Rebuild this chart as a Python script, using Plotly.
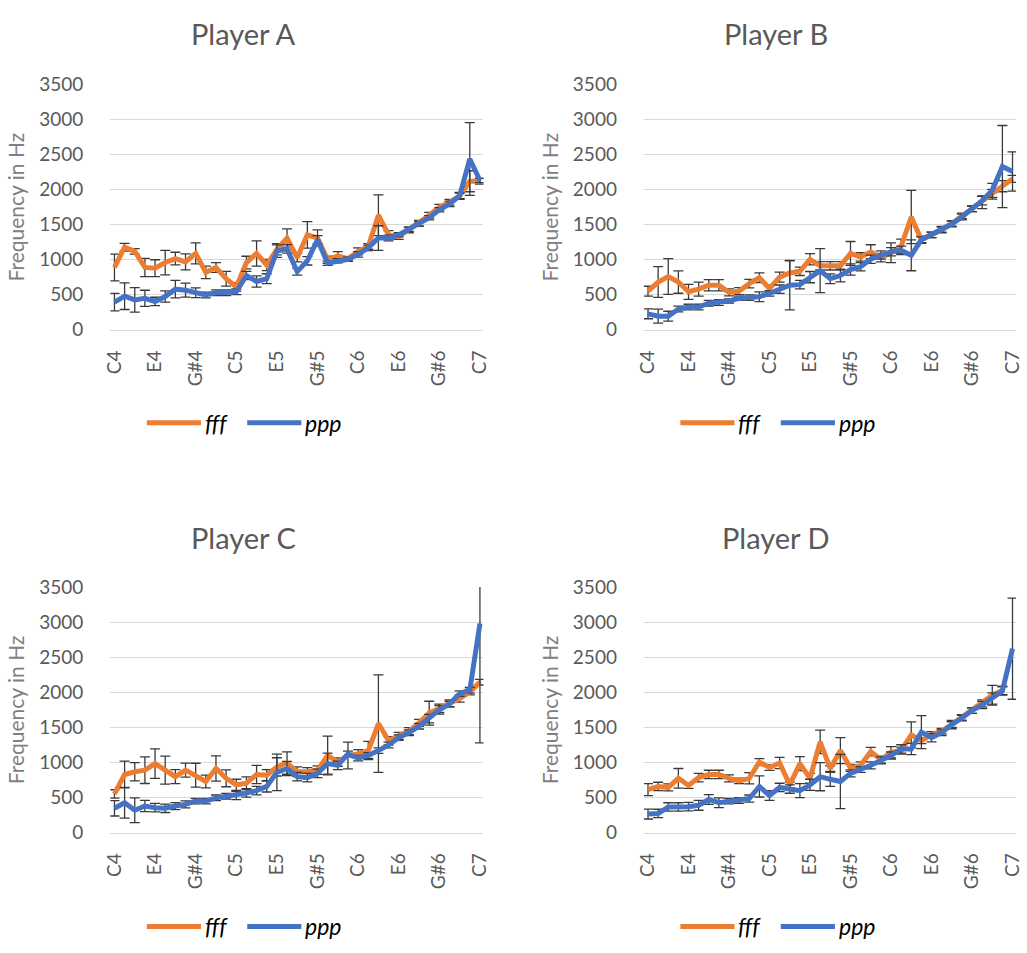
import plotly.graph_objects as go

# 37 semitones from C4 to C7
notes = ["C4", "C#4", "D4", "D#4", "E4", "F4", "F#4", "G4", "G#4", "A4", "A#4", "B4",
         "C5", "C#5", "D5", "D#5", "E5", "F5", "F#5", "G5", "G#5", "A5", "A#5", "B5",
         "C6", "C#6", "D6", "D#6", "E6", "F6", "F#6", "G6", "G#6", "A6", "A#6", "B6",
         "C7"]
tick_notes = notes[::4]

players = ["Player A", "Player B", "Player C", "Player D"]
dynamics = ["fff", "ppp"]

# mean frequency (Hz) and standard deviation per note, fff and ppp dynamics
fff_a = [890, 1180, 1120, 890, 880, 960, 1017, 970, 1090, 820, 890, 730, 612, 960, 1090, 925,
         1150, 1310, 1030, 1355, 1310, 1000, 1055, 1015, 1120, 1190, 1635, 1355, 1330, 1425,
         1520, 1635, 1750, 1820, 1910, 2120, 2120]
fff_a_err = [190, 55, 40, 130, 120, 175, 90, 115, 150, 90, 70, 105, 60, 90, 180, 80,
             80, 130, 60, 190, 115, 50, 60, 30, 50, 40, 290, 60, 40, 40,
             40, 40, 40, 40, 50, 150, 40]
ppp_a = [395, 480, 427, 450, 405, 475, 580, 566, 530, 497, 530, 530, 543, 775, 690, 730,
         1123, 1155, 830, 985, 1285, 950, 985, 1007, 1077, 1170, 1310, 1310, 1355, 1435,
         1510, 1600, 1713, 1797, 1912, 2437, 2130]
ppp_a_err = [125, 190, 175, 115, 60, 80, 125, 100, 70, 40, 40, 40, 40, 60, 80, 70,
             90, 60, 50, 60, 60, 30, 30, 30, 40, 40, 175, 40, 30, 30,
             30, 30, 30, 40, 40, 520, 30]

fff_b = [552, 682, 761, 682, 543, 580, 636, 636, 534, 552, 659, 743, 590, 752, 812, 835,
         1007, 914, 914, 914, 1090, 1040, 1114, 1030, 1100, 1193, 1610, 1285, 1355, 1425,
         1518, 1625, 1727, 1820, 1935, 2050, 2155]
fff_b_err = [70, 220, 255, 160, 107, 100, 80, 80, 50, 50, 60, 70, 50, 70, 180, 60,
             80, 60, 60, 60, 170, 60, 100, 60, 140, 100, 380, 50, 40, 40,
             40, 40, 40, 90, 70, 80, 50]
ppp_b = [228, 195, 195, 297, 325, 325, 380, 390, 413, 450, 460, 473, 520, 580, 636, 645,
         752, 845, 729, 775, 860, 900, 1007, 1068, 1114, 1133, 1063, 1285, 1355, 1435,
         1510, 1610, 1727, 1843, 1990, 2330, 2260]
ppp_b_err = [70, 100, 70, 40, 40, 40, 40, 40, 30, 30, 40, 70, 40, 60, 350, 60,
             80, 315, 70, 90, 80, 60, 60, 60, 60, 60, 220, 40, 40, 40,
             40, 40, 40, 60, 100, 585, 280]

fff_c = [552, 830, 868, 891, 985, 891, 798, 891, 820, 730, 915, 775, 682, 705, 830, 820,
         938, 993, 868, 868, 891, 1100, 1007, 1100, 1123, 1170, 1555, 1310, 1380, 1448,
         1565, 1703, 1773, 1843, 1912, 2005, 2145]
fff_c_err = [60, 190, 130, 190, 210, 200, 100, 100, 170, 90, 180, 120, 80, 90, 130, 80,
             130, 160, 70, 60, 60, 275, 60, 190, 60, 130, 695, 60, 50, 50,
             50, 170, 60, 50, 50, 40, 40]
ppp_c = [348, 427, 320, 380, 357, 348, 380, 404, 450, 450, 497, 520, 530, 566, 600, 660,
         860, 915, 798, 785, 845, 985, 960, 1123, 1063, 1100, 1170, 1250, 1355, 1425,
         1518, 1625, 1750, 1833, 1982, 2030, 2980]
ppp_c_err = [110, 220, 175, 80, 60, 60, 50, 50, 40, 40, 40, 40, 60, 60, 60, 80,
             260, 100, 60, 60, 60, 150, 60, 40, 40, 40, 40, 40, 40, 40,
             40, 60, 60, 40, 40, 40, 1700]

fff_d = [613, 659, 645, 775, 673, 785, 830, 830, 775, 738, 775, 1007, 928, 993, 682, 985,
         775, 1295, 914, 1170, 924, 960, 1155, 1040, 1147, 1170, 1393, 1310, 1400, 1448,
         1541, 1643, 1740, 1843, 1959, 2028, None]
fff_d_err = [85, 60, 50, 140, 40, 60, 60, 60, 50, 40, 80, 50, 40, 80, 40, 100,
             70, 167, 40, 185, 50, 50, 60, 50, 80, 50, 185, 40, 40, 40,
             60, 40, 40, 50, 140, 60, None]
ppp_d = [265, 274, 367, 367, 371, 390, 473, 427, 450, 460, 487, 659, 530, 645, 622, 600,
         682, 798, 761, 729, 845, 900, 960, 1030, 1100, 1193, 1193, 1434, 1355, 1425,
         1541, 1634, 1740, 1820, 1912, 2020, 2622]
ppp_d_err = [70, 60, 60, 60, 60, 70, 70, 70, 40, 40, 50, 150, 70, 60, 60, 100,
             80, 200, 100, 386, 50, 40, 50, 50, 50, 60, 80, 235, 60, 40,
             40, 40, 40, 50, 80, 60, 720]

fff_series = [(fff_a, fff_a_err), (fff_b, fff_b_err), (fff_c, fff_c_err), (fff_d, fff_d_err)]
ppp_series = [(ppp_a, ppp_a_err), (ppp_b, ppp_b_err), (ppp_c, ppp_c_err), (ppp_d, ppp_d_err)]

ORANGE = "#ED7D31"
BLUE = "#4472C4"
ERR = "#3A3A3A"
GRID = "#D9D9D9"
TXT = "#595959"
FONT = "Lato"

W, H = 1027, 953

# plot areas in pixels: (left, right, top, bottom)
areas = [(103, 482, 74.3, 325.7), (645, 1023, 74.3, 325.7),
         (103, 482, 589.3, 841), (645, 1023, 589.3, 841)]
title_pos = [(238, 22), (779, 22), (238, 538), (779, 538)]
# legend row: left edge of the first key and its vertical centre
legend_pos = [(140, 421), (682, 421), (140, 937), (682, 937)]
KEY_LEN, KEY_GAP, ITEM_STEP = 55, 2, 102


def px_x(v):
    return v / W


def px_y(v):
    return 1 - v / H


fig = go.Figure()
layout = {}
shapes = []
annotations = []
for k in range(4):
    sfx = "" if k == 0 else str(k + 1)
    xa, ya = "x" + sfx, "y" + sfx
    for name, (vals, err), col in (("fff", fff_series[k], ORANGE), ("ppp", ppp_series[k], BLUE)):
        fig.add_trace(go.Scatter(
            x=notes, y=vals, name=name, mode="lines",
            line=dict(color=col, width=5),
            error_y=dict(type="data", array=err, visible=True, color=ERR, thickness=1.3, width=5),
            xaxis=xa, yaxis=ya, showlegend=False, connectgaps=False,
        ))
    l, r, t, b = areas[k]
    layout["xaxis" + sfx] = dict(
        domain=[px_x(l), px_x(r)], anchor=ya, type="category", categoryorder="array",
        categoryarray=notes, range=[-0.4, 36.35], tickvals=tick_notes, tickangle=-90,
        tickfont=dict(family=FONT, size=19, color=TXT), showgrid=False, zeroline=False,
        showline=True, linecolor=GRID, linewidth=1, ticks="", ticklabelstandoff=12,
    )
    layout["yaxis" + sfx] = dict(
        domain=[px_y(b), px_y(t)], anchor=xa, range=[0, 3500], dtick=500,
        tickfont=dict(family=FONT, size=19, color=TXT), showgrid=True, gridcolor=GRID,
        gridwidth=1, zeroline=False, showline=False, ticks="", ticklabelstandoff=26,
        title=dict(text="Frequency in Hz", font=dict(family=FONT, size=21, color="#808080"),
                   standoff=8),
    )

    # series key below each panel
    lx, ly = legend_pos[k]
    for j, (name, col) in enumerate(zip(dynamics, (ORANGE, BLUE))):
        x0 = lx + j * ITEM_STEP
        shapes.append(dict(
            type="line", xref="paper", yref="paper",
            x0=px_x(x0), x1=px_x(x0 + KEY_LEN), y0=px_y(ly), y1=px_y(ly),
            line=dict(color=col, width=5),
        ))
        annotations.append(dict(
            text=name, x=px_x(x0 + KEY_LEN + KEY_GAP), y=px_y(ly), xref="paper", yref="paper",
            xanchor="left", yanchor="middle", showarrow=False,
            font=dict(family=FONT, size=23, color="#000000", style="italic"),
        ))

    tx, ty = title_pos[k]
    annotations.append(dict(
        text=players[k], x=px_x(tx), y=px_y(ty), xref="paper", yref="paper",
        xanchor="center", yanchor="middle", showarrow=False,
        font=dict(family=FONT, size=29, color=TXT),
    ))

fig.update_layout(
    width=W, height=H, margin=dict(l=0, r=0, t=0, b=0),
    paper_bgcolor="white", plot_bgcolor="white", showlegend=False,
    annotations=annotations, shapes=shapes, **layout,
)

fig.write_html("out.html")
